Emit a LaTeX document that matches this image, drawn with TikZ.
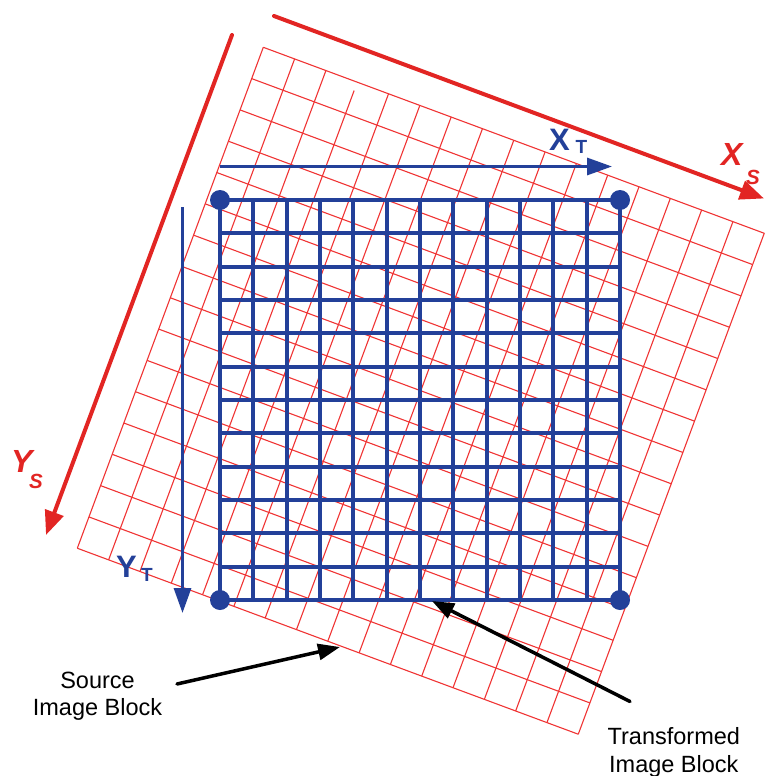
\documentclass[tikz,border=0pt]{standalone}
\usepackage{fontspec}
\setmainfont{Liberation Sans}
\usetikzlibrary{arrows.meta}
\definecolor{tblue}{RGB}{35,64,153}
\definecolor{sred}{RGB}{226,37,35}
\definecolor{gred}{RGB}{240,52,52}
\begin{document}
\begin{tikzpicture}[x=1pt,y=-1pt,
  redgrid/.style={gred, line width=1.1pt},
  redaxis/.style={sred, line width=4pt, line cap=round, -{Triangle[length=24pt,width=19pt]}},
  bluegrid/.style={tblue, line width=4.2pt},
  blueaxis/.style={tblue, line width=3.2pt, -{Triangle[length=25pt,width=17pt]}},
  pointer/.style={black, line width=3.5pt, line cap=round, -{Triangle[length=22pt,width=16pt]}},
  corner/.style={circle, fill=tblue, inner sep=0pt, minimum size=20pt},
  labeltext/.style={font=\fontsize{23.5}{27.4}\selectfont, align=center, inner sep=0pt},
  bigletter/.style={font=\fontsize{31}{31}\selectfont\bfseries, inner sep=0pt, anchor=base west},
  subletter/.style={font=\fontsize{19}{19}\selectfont\bfseries, inner sep=0pt, anchor=base west},
  bigital/.style={font=\fontsize{32}{32}\selectfont\bfseries\itshape, inner sep=0pt, anchor=base west},
  subital/.style={font=\fontsize{20.5}{20.5}\selectfont\bfseries\itshape, inner sep=0pt, anchor=base west}]
\useasboundingbox (0,0) rectangle (766,776);
\fill[white] (0,0) rectangle (766,776);

% ---- source (red, rotated) grid: 16 x 16 cells ----
\foreach \i in {0,1,2,4,5,6,7,8,9,10,11,12,13,14,15,16}{
  \draw[redgrid] ({263.3+\i*31.31},{47.3+\i*11.62}) -- ({263.3+\i*31.31-186},{47.3+\i*11.62+501});
}
\draw[redgrid] ({263.3+3*31.31-3.1},{47.3+3*11.62+8.4}) -- ({263.3+3*31.31-186},{47.3+3*11.62+501});
\foreach \j in {0,...,16}{
  \draw[redgrid] ({263.3-\j*11.62},{47.3+\j*31.31}) -- ({263.3-\j*11.62+501},{47.3+\j*31.31+186});
}

% ---- source axes ----
\coordinate (xs0) at (274,16);
\coordinate (xs1) at (764,198.5);
\coordinate (ys0) at (232,35);
\coordinate (ys1) at (46,535);
\draw[redaxis] (xs0) -- (xs1);
\draw[redaxis] (ys0) -- (ys1);

% ---- transformed (blue) grid: 12 x 12 cells ----
\foreach \k in {0,...,12}{
  \draw[bluegrid] ({220+\k*33.333},200) -- ({220+\k*33.333},600);
  \draw[bluegrid] (220,{200+\k*33.333}) -- (620,{200+\k*33.333});
}
\node[corner] (c1) at (220,200) {};
\node[corner] (c2) at (620,200) {};
\node[corner] (c3) at (220,600) {};
\node[corner] (c4) at (620,600) {};

% ---- transformed axes ----
\coordinate (xt0) at (220,166.5);
\coordinate (xt1) at (612,166.5);
\coordinate (yt0) at (182.5,207);
\coordinate (yt1) at (182.5,613);
\draw[blueaxis] (xt0) -- (xt1);
\draw[blueaxis] (yt0) -- (yt1);

% ---- axis labels ----
\node[bigletter, tblue] (xtX) at (549,150) {X};
\node[subletter, tblue] (xtT) at (575.5,153.3) {T};
\node[bigletter, tblue] (ytY) at (116,577.7) {Y};
\node[subletter, tblue] (ytT) at (141,581.7) {T};
\node[bigital, sred] (xsX) at (721,165) {X};
\node[subital, sred] (xsS) at (746,184) {S};
\node[bigital, sred] (ysY) at (11,472) {Y};
\node[subital, sred] (ysS) at (29,488) {S};

% ---- block labels and pointers ----
\node[labeltext, anchor=base] (src) at (97.5,715.8) {Source\\Image Block};
\node[labeltext, anchor=base] (trf) at (673.8,772) {Transformed\\Image Block};
\coordinate (srcA) at (177,684);
\coordinate (srcB) at (340,647);
\coordinate (trfA) at (630,701.5);
\coordinate (trfB) at (432,601);
\draw[pointer] (srcA) -- (srcB);
\draw[pointer] (trfA) -- (trfB);
\end{tikzpicture}
\end{document}
